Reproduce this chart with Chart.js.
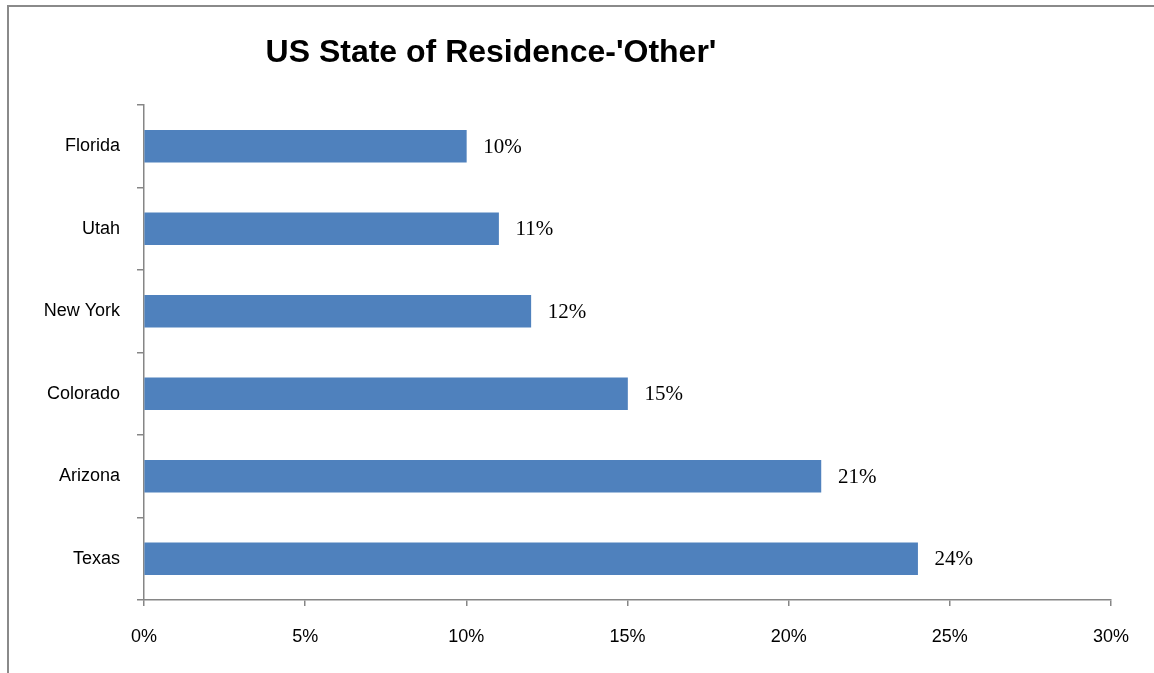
<!DOCTYPE html>
<html>
<head>
<meta charset="utf-8">
<script src="https://cdn.jsdelivr.net/npm/chart.js@4/dist/chart.umd.min.js"></script>
<style>
  html, body { margin: 0; padding: 0; background: #fff; overflow: hidden; }
  #wrap { position: absolute; left: 0; top: 0; width: 1154px; height: 673px; }
</style>
</head>
<body>
<div id="wrap"><canvas id="stateChart" width="1154" height="673"></canvas></div>
<script>
const chartTitle = "US State of Residence-'Other'";
const states = ["Florida", "Utah", "New York", "Colorado", "Arizona", "Texas"];
const shares = [10, 11, 12, 15, 21, 24];
const xTicks = [0, 5, 10, 15, 20, 25, 30];

// frame + title, drawn before the chart
const framePlugin = {
  id: 'frame',
  beforeDraw(chart) {
    const { ctx } = chart;
    ctx.save();
    ctx.fillStyle = "#fff";
    ctx.fillRect(0, 0, chart.width, chart.height);
    ctx.strokeStyle = "#8a8a8a";
    ctx.lineWidth = 2;
    ctx.beginPath();
    ctx.moveTo(8, chart.height);
    ctx.lineTo(8, 6);
    ctx.lineTo(chart.width, 6);
    ctx.stroke();

    ctx.fillStyle = "#000";
    ctx.font = "bold 32px 'Liberation Sans', Arial, sans-serif";
    ctx.textAlign = "center";
    ctx.textBaseline = "middle";
    ctx.fillText(chartTitle, 491, 53);
    ctx.restore();
  }
};

// value labels to the right of each bar
const valueLabelPlugin = {
  id: 'valueLabels',
  afterDatasetsDraw(chart) {
    const { ctx } = chart;
    const meta = chart.getDatasetMeta(0);
    ctx.save();
    ctx.fillStyle = "#000";
    ctx.font = "21px 'Liberation Serif', 'Times New Roman', serif";
    ctx.textAlign = "left";
    ctx.textBaseline = "middle";
    meta.data.forEach((bar, i) => {
      ctx.fillText(shares[i] + "%", bar.x + 17, bar.y + 1);
    });
    ctx.restore();
  }
};

const ctx = document.getElementById("stateChart").getContext("2d");
new Chart(ctx, {
  type: "bar",
  data: {
    labels: states,
    datasets: [{
      data: shares,
      backgroundColor: "#4F81BD",
      borderWidth: 0,
      barThickness: 32
    }]
  },
  options: {
    indexAxis: 'y',
    responsive: false,
    animation: false,
    layout: { padding: { top: 105, left: 0, right: 43, bottom: 0 } },
    plugins: {
      legend: { display: false },
      title: { display: false },
      tooltip: { enabled: false }
    },
    scales: {
      x: {
        min: 0,
        max: 30,
        afterBuildTicks(scale) {
          scale.ticks = xTicks.map(v => ({ value: v }));
        },
        afterFit(scale) { scale.height = 73; },
        border: { color: "#868686", width: 1.5 },
        grid: {
          drawOnChartArea: false,
          drawTicks: true,
          tickLength: 6,
          color: "#868686",
          lineWidth: 1.5
        },
        ticks: {
          padding: 20,
          color: "#000",
          font: { family: "'Liberation Sans', Arial, sans-serif", size: 18 },
          callback: v => v + "%"
        }
      },
      y: {
        afterFit(scale) { scale.width = 144; },
        border: { color: "#868686", width: 1.5 },
        grid: {
          offset: true,
          drawOnChartArea: false,
          drawTicks: true,
          tickLength: 7,
          color: "#868686",
          lineWidth: 1.5
        },
        ticks: {
          padding: 17,
          color: "#000",
          font: { family: "'Liberation Sans', Arial, sans-serif", size: 18 }
        }
      }
    }
  },
  plugins: [framePlugin, valueLabelPlugin]
});
</script>
</body>
</html>
